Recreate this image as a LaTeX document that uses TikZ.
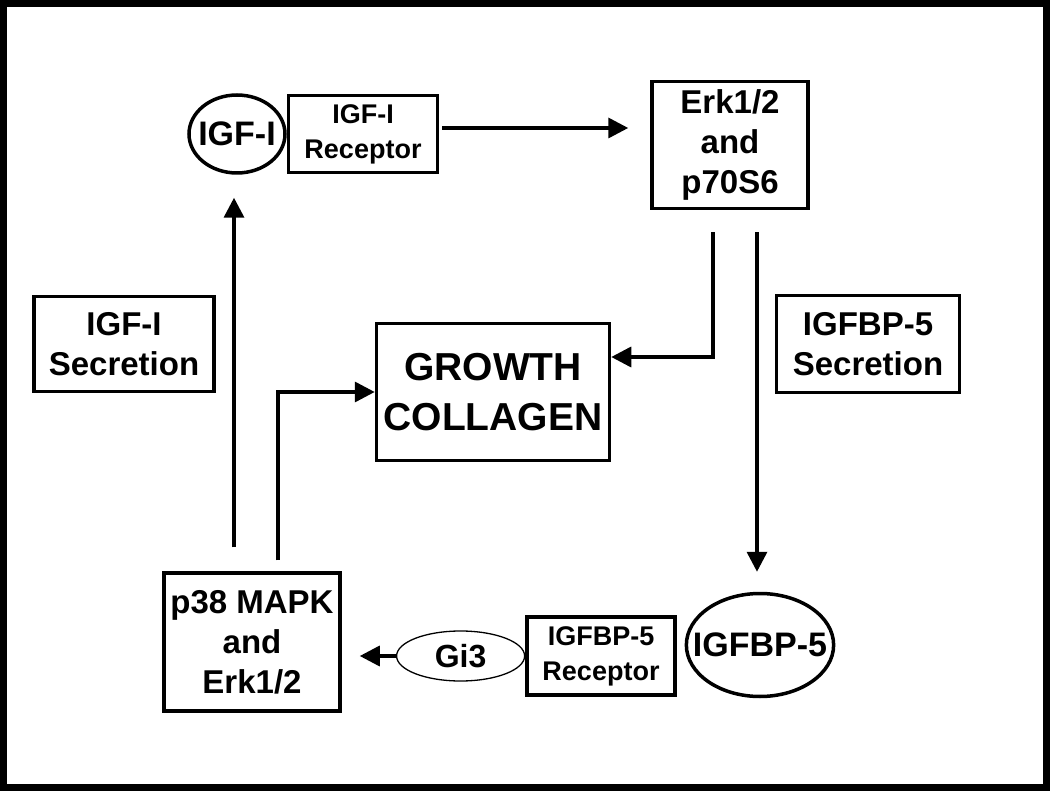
\documentclass[tikz,border=0pt]{standalone}
\usepackage{fontspec}
\setmainfont{Liberation Sans}
\usetikzlibrary{shapes.geometric, arrows.meta, positioning}
\tikzstyle{block} = [rectangle, draw, line width=3.5pt, align=center, inner sep=0pt, font=\bfseries\fontsize{33}{40}\selectfont]
\tikzstyle{bigblock} = [block, font=\bfseries\fontsize{39}{50}\selectfont]
\tikzstyle{recbox} = [block, font=\bfseries\fontsize{27}{35}\selectfont]
\tikzstyle{ligand} = [ellipse, draw, line width=3.5pt, inner sep=0pt, inner xsep=-15pt, font=\bfseries\fontsize{34}{40}\selectfont]
\tikzstyle{gprot} = [ellipse, draw, line width=1.3pt, inner sep=0pt, font=\bfseries\fontsize{32}{40}\selectfont]
\tikzstyle{flow} = [line width=3.5pt, -{Triangle[length=20pt, width=20pt]}]

\begin{document}
\begin{tikzpicture}[x=1pt, y=-1pt]

	% Frame
	\useasboundingbox (0,0) rectangle (1050,791);
	\draw[line width=7pt] (3.5,3.5) rectangle (1046.5,787.5);

	% IGF-I and its receptor
	\node (igf) [ligand, minimum width=96pt, minimum height=78pt] at (237,134) {IGF-I};
	\node (igf_rec) [recbox, minimum width=149pt, minimum height=77pt, right=0pt of igf] {IGF-I\\Receptor};

	% Kinases
	\node (erk) [block, minimum width=156pt, minimum height=127pt] at (730,145) {Erk1/2\\and\\p70S6};
	\node (p38) [block, minimum width=176pt, minimum height=138pt] at (252,642) {p38 MAPK\\and\\Erk1/2};

	% Secretion labels
	\node (igf_sec) [block, minimum width=180pt, minimum height=95pt] at (124,344) {IGF-I\\Secretion};
	\node (bp5_sec) [block, minimum width=183pt, minimum height=97pt] at (868,344) {IGFBP-5\\Secretion};

	% Outcome
	\node (growth) [bigblock, minimum width=233pt, minimum height=137pt] at (493,392) {GROWTH\\COLLAGEN};

	% IGFBP-5, its receptor and Gi3
	\node (bp5) [ligand, minimum width=146pt, minimum height=103pt] at (760,645) {IGFBP-5};
	\node (bp5_rec) [recbox, minimum width=148pt, minimum height=78pt] at (601,656) {IGFBP-5\\Receptor};
	\node (gi3) [gprot, minimum width=128pt, minimum height=50pt, left=0pt of bp5_rec] {Gi3};

	% Arrows - IGF-I pathway
	\draw[flow] ([xshift=3pt,yshift=6pt]igf_rec.east) -- ([xshift=-22pt,yshift=6pt]igf_rec.east -| erk.west);
	\draw[flow] ([xshift=-17pt,yshift=-22pt]erk.south) |- ([yshift=35pt]growth.east);
	\draw[flow, shorten <=22pt, shorten >=20pt] ([xshift=27pt]erk.south) -- ([xshift=27pt]erk.south |- bp5.north);

	% Arrows - IGFBP-5 pathway
	\draw[flow, shorten >=18pt] (gi3.west) -- (gi3.west -| p38.east);
	\draw[flow, shorten <=24pt, shorten >=23pt] ([xshift=-18pt]p38.north) -- ([xshift=-18pt]p38.north |- igf.south);
	\draw[flow] ([xshift=26pt,yshift=11pt]p38.north) |- (growth.west);

\end{tikzpicture}
\end{document}
